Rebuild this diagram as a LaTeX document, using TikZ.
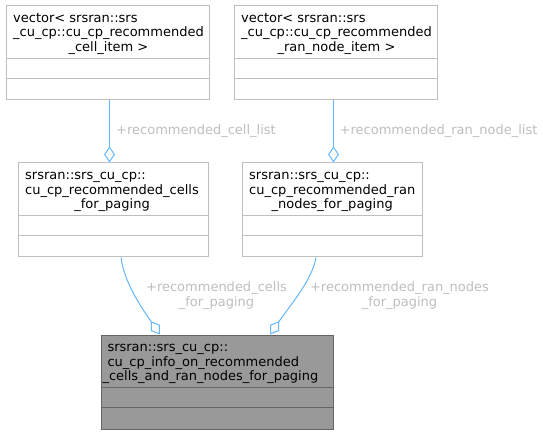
\documentclass[tikz,border=0pt]{standalone}
\usepackage{fontspec}
\setmainfont{DejaVu Sans}
\usetikzlibrary{arrows.meta,calc}
\definecolor{edgeblue}{HTML}{63B8FF}
\definecolor{lblgray}{HTML}{BEBEBE}
\definecolor{boxgray}{HTML}{BFBFBF}
\definecolor{mainfill}{HTML}{999999}
\definecolor{mainborder}{HTML}{666666}
\begin{document}
\begin{tikzpicture}[x=1pt,y=-1pt,
  box/.style={draw=boxgray, fill=white, line width=1pt, inner sep=0pt, anchor=north west},
  mainbox/.style={box, draw=mainborder, fill=mainfill},
  sepline/.style={draw=boxgray, line width=1pt},
  mainsep/.style={draw=mainborder, line width=1pt},
  title/.style={anchor=base west, inner sep=0pt, font=\fontsize{13}{14.5}\selectfont},
  lbl/.style={text=lblgray, inner sep=0pt, font=\fontsize{13}{14.5}\selectfont},
  edge/.style={draw=edgeblue, line width=1pt},
  dtip/.tip={Diamond[open, length=16pt, width=11pt, line width=1pt]},
]
\useasboundingbox (0,0) rectangle (543,435);

% boxes
\node[box, minimum width=203pt, minimum height=94pt] (A) at (5.5,5.5) {};
\node[box, minimum width=203pt, minimum height=94pt] (B) at (233.5,5.5) {};
\node[box, minimum width=190pt, minimum height=94pt] (C) at (17.5,162.5) {};
\node[box, minimum width=180pt, minimum height=94pt] (D) at (241.5,162.5) {};
\node[mainbox, minimum width=232pt, minimum height=94pt] (E) at (100.5,334.5) {};

% separators
\foreach \n in {A,B,C,D}{
  \draw[sepline] ($(\n.north west)+(0,53)$) -- ($(\n.north east)+(0,53)$);
  \draw[sepline] ($(\n.north west)+(0,73)$) -- ($(\n.north east)+(0,73)$);
}
\draw[mainsep] ($(E.north west)+(0,53)$) -- ($(E.north east)+(0,53)$);
\draw[mainsep] ($(E.north west)+(0,73)$) -- ($(E.north east)+(0,73)$);

% titles
\node[title] (tA) at (13,22.2) {\begin{tabular}[t]{@{}l@{}}vector< srsran::srs\\\_cu\_cp::cu\_cp\_recommended\\\multicolumn{1}{@{}c@{}}{\_cell\_item >}\end{tabular}};
\node[title] (tB) at (241,22.2) {\begin{tabular}[t]{@{}l@{}}vector< srsran::srs\\\_cu\_cp::cu\_cp\_recommended\\\multicolumn{1}{@{}c@{}}{\_ran\_node\_item >}\end{tabular}};
\node[title] (tC) at (25,179.7) {\begin{tabular}[t]{@{}l@{}}srsran::srs\_cu\_cp::\\cu\_cp\_recommended\_cells\\\multicolumn{1}{@{}c@{}}{\_for\_paging}\end{tabular}};
\node[title] (tD) at (249,179.7) {\begin{tabular}[t]{@{}l@{}}srsran::srs\_cu\_cp::\\cu\_cp\_recommended\_ran\\\multicolumn{1}{@{}c@{}}{\_nodes\_for\_paging}\end{tabular}};
\node[title] (tE) at (107.3,351.8) {\begin{tabular}[t]{@{}l@{}}srsran::srs\_cu\_cp::\\cu\_cp\_info\_on\_recommended\\\hspace*{-5pt}\_cells\_and\_ran\_nodes\_for\_paging\end{tabular}};

% connectors
\draw[edge, {dtip}-] ($(C.north west)+(92,0)$) -- ($(A.south west)+(104,0)$);
\draw[edge, {dtip}-] ($(D.north west)+(92,0)$) -- ($(B.south west)+(100,0)$);
\draw[edge, -{dtip}] ($(C.south west)+(103.5,0)$) .. controls +(3,24) and +(-20,-29) .. ($(E.north west)+(59.5,0)$);
\draw[edge, -{dtip}] ($(D.south west)+(74.5,0)$) .. controls +(-4,23) and +(20,-29) .. ($(E.north west)+(169.5,0)$);

% labels
\node[lbl, anchor=base west] (l1) at (116,135) {+recommended\_cell\_list};
\node[lbl, anchor=base west] (l2) at (339.5,135) {+recommended\_ran\_node\_list};
\node[lbl, anchor=base] (l3) at (216.5,291.7) {\begin{tabular}[t]{@{}c@{}}+recommended\_cells\\\_for\_paging\end{tabular}};
\node[lbl, anchor=base] (l4) at (399.5,291.7) {\begin{tabular}[t]{@{}c@{}}+recommended\_ran\_nodes\\\_for\_paging\end{tabular}};
\end{tikzpicture}
\end{document}
